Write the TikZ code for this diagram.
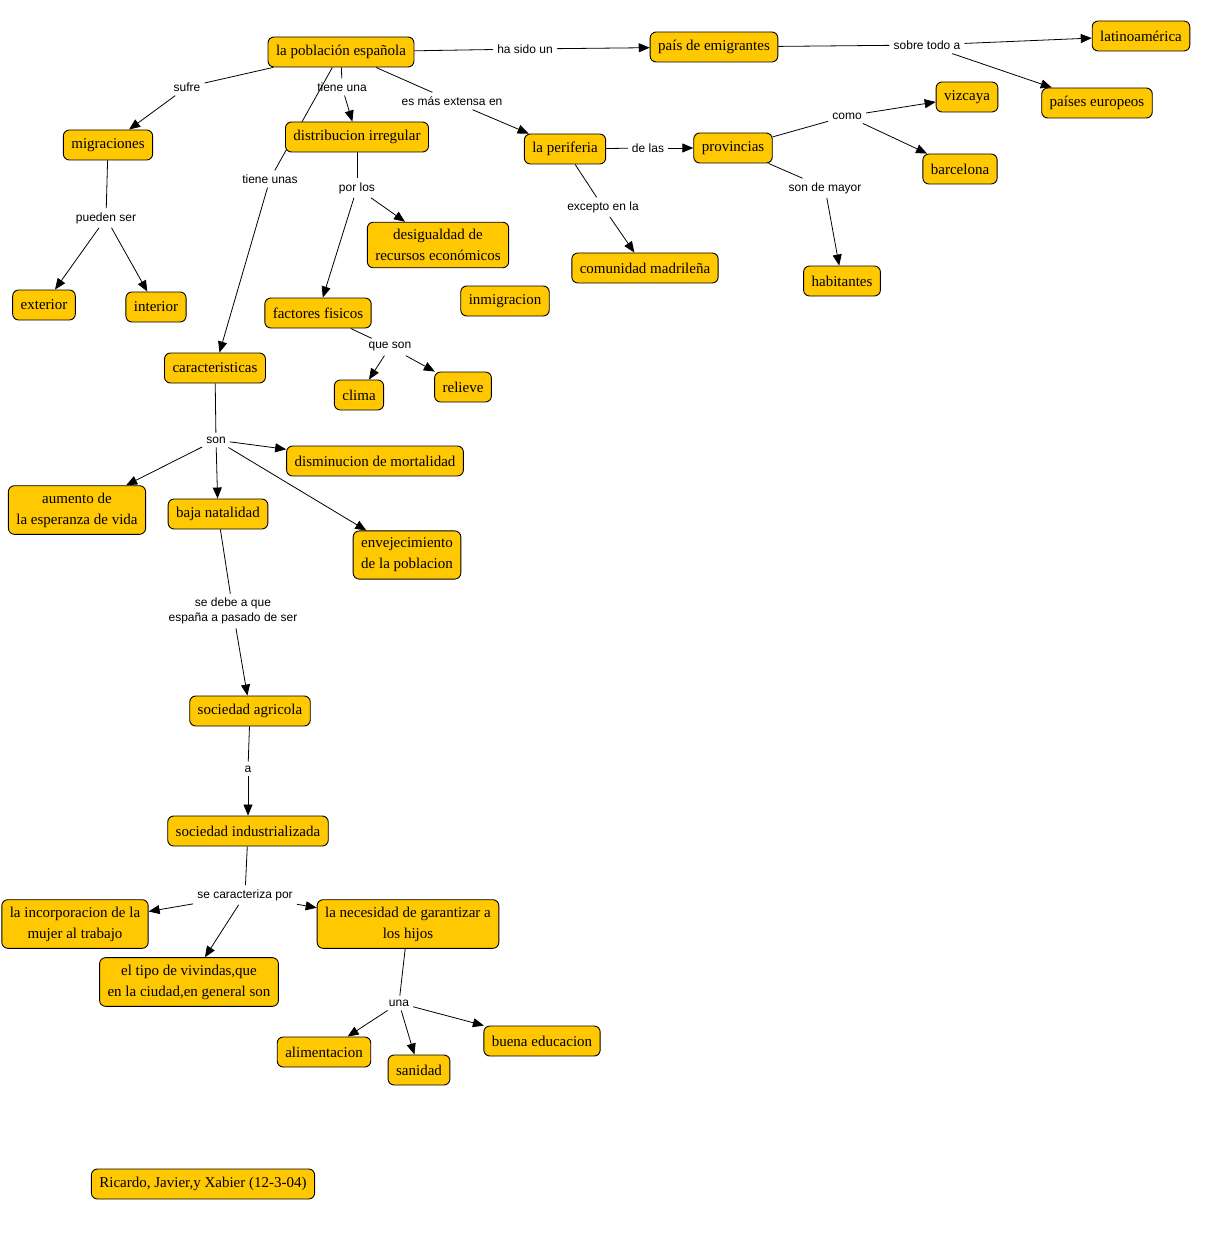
\documentclass[tikz,border=0pt]{standalone}
\usepackage{fontspec}
\setmainfont{Liberation Serif}
\setsansfont{Liberation Sans}
\usepackage{xcolor}
\usetikzlibrary{arrows.meta, backgrounds}
\definecolor{cmapfill}{RGB}{255,200,0}
\tikzset{%
    concept/.style = {draw=black, fill=cmapfill, rounded corners=6pt, line width=0.9pt,
        minimum height=30pt, inner xsep=8pt, inner ysep=7pt, align=center,
        font=\fontsize{15}{21}\selectfont},
    linking/.style = {inner sep=4pt, align=center,
        font=\sffamily\fontsize{12}{15}\selectfont},
    link/.style = {draw=black, line width=0.8pt},
    flecha/.style = {-{Triangle[length=11pt,width=9pt]}}
}

\begin{document}
\begin{tikzpicture}[x=1pt, y=-1pt]
    \useasboundingbox (0,0) rectangle (1230,1241);
    % concepts
    \node [concept] (pob) at (341,52) {la población española};
    \node [concept] (emig) at (714,47) {país de emigrantes};
    \node [concept] (latam) at (1141,36) {latinoamérica};
    \node [concept] (europ) at (1097,103) {países europeos};
    \node [concept] (vizc) at (967,97) {vizcaya};
    \node [concept] (barc) at (960,169) {barcelona};
    \node [concept] (prov) at (733,148) {provincias};
    \node [concept] (perif) at (565,149) {la periferia};
    \node [concept] (madr) at (645,268) {comunidad madrileña};
    \node [concept] (habit) at (842,281) {habitantes};
    \node [concept] (migr) at (108,145) {migraciones};
    \node [concept] (exter) at (44,305) {exterior};
    \node [concept] (inter) at (156,307) {interior};
    \node [concept] (distr) at (357,137) {distribucion irregular};
    \node [concept] (desig) at (438,245) {desigualdad de\\recursos económicos};
    \node [concept] (inmig) at (505,301) {inmigracion};
    \node [concept] (fact) at (318,313) {factores fisicos};
    \node [concept] (clima) at (359,395) {clima};
    \node [concept] (reliev) at (463,387) {relieve};
    \node [concept] (caract) at (215,368) {caracteristicas};
    \node [concept] (dismi) at (375,461) {disminucion de mortalidad};
    \node [concept] (aument) at (77,510) {aumento de\\la esperanza de vida};
    \node [concept] (baja) at (218,514) {baja natalidad};
    \node [concept] (envej) at (407,555) {envejecimiento\\de la poblacion};
    \node [concept] (agric) at (250,711) {sociedad agricola};
    \node [concept] (indus) at (248,831) {sociedad industrializada};
    \node [concept] (incorp) at (75,924) {la incorporacion de la\\mujer al trabajo};
    \node [concept] (vivi) at (189,982) {el tipo de vivindas,que\\en la ciudad,en general son};
    \node [concept] (neces) at (408,924) {la necesidad de garantizar a\\los hijos};
    \node [concept] (alim) at (324,1052) {alimentacion};
    \node [concept] (sanid) at (419,1070) {sanidad};
    \node [concept] (educ) at (542,1041) {buena educacion};
    \node [concept] (autor) at (203,1184) {Ricardo, Javier,y Xabier (12-3-04)};
    % linking phrases
    \node [linking] (hasido) at (525,49) {ha sido un};
    \node [linking] (sobre) at (927,45) {sobre todo a};
    \node [linking] (sufre) at (187,87) {sufre};
    \node [linking] (tieneuna) at (342,87) {tiene una};
    \node [linking] (extensa) at (452,101) {es más extensa en};
    \node [linking] (tieneunas) at (270,179) {tiene unas};
    \node [linking] (porlos) at (357,188) {por los};
    \node [linking] (queson) at (390,347) {que son};
    \node [linking] (pueden) at (106,218) {pueden ser};
    \node [linking] (delas) at (648,148) {de las};
    \node [linking] (excepto) at (603,207) {excepto en la};
    \node [linking] (como) at (847,116) {como};
    \node [linking] (mayor) at (825,188) {son de mayor};
    \node [linking] (son) at (216,440) {son};
    \node [linking] (sedebe) at (233,611) {se debe a que\\españa a pasado de ser};
    \node [linking] (pasoa) at (248,769) {a};
    \node [linking] (secarac) at (245,895) {se caracteriza por};
    \node [linking] (una) at (399,1003) {una};
    % connections
    \begin{scope}[on background layer]
    \draw[link]
    (pob) edge (hasido) (pob) edge (sufre) (pob) edge (tieneuna)
    (pob) edge (extensa) (pob) edge (tieneunas) (emig) edge (sobre)
    (distr) edge (porlos) (fact) edge (queson) (migr) edge (pueden)
    (perif) edge (delas) (perif) edge (excepto) (prov) edge (como)
    (prov) edge (mayor) (caract) edge (son) (baja) edge (sedebe)
    (agric) edge (pasoa) (indus) edge (secarac) (neces) edge (una);
    \draw[link, flecha]
    (hasido) edge (emig) (sobre) edge (latam) (sobre) edge (europ)
    (sufre) edge (migr) (tieneuna) edge (distr) (extensa) edge (perif)
    (tieneunas) edge (caract) (porlos) edge (fact) (porlos) edge (desig)
    (queson) edge (clima) (queson) edge (reliev)
    (pueden) edge (exter) (pueden) edge (inter)
    (delas) edge (prov) (excepto) edge (madr)
    (como) edge (vizc) (como) edge (barc) (mayor) edge (habit)
    (son) edge (dismi) (son) edge (aument) (son) edge (baja) (son) edge (envej)
    (sedebe) edge (agric) (pasoa) edge (indus)
    (secarac) edge (incorp) (secarac) edge (vivi) (secarac) edge (neces)
    (una) edge (alim) (una) edge (sanid) (una) edge (educ);
    \end{scope}
\end{tikzpicture}
\end{document}
